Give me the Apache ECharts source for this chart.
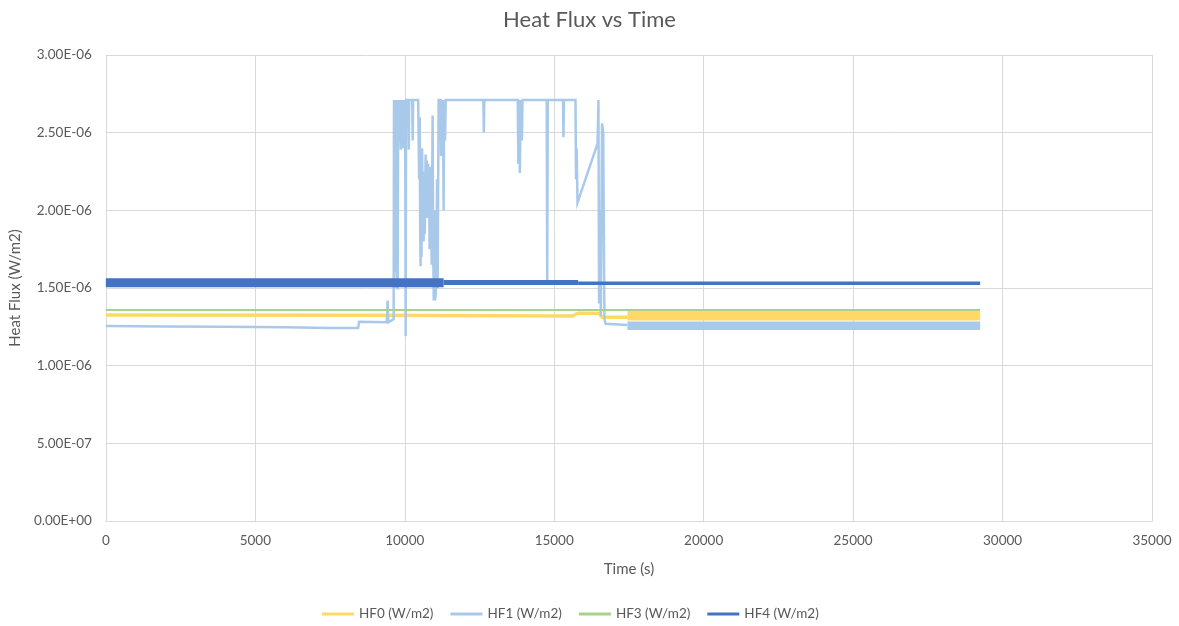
<!DOCTYPE html>
<html>
<head>
<meta charset="utf-8">
<script src="https://cdn.jsdelivr.net/npm/echarts@6/dist/echarts.min.js"></script>
<style>
html,body{margin:0;padding:0;background:#fff;}
#chart{width:1179px;height:626px;}
</style>
</head>
<body>
<div id="chart"></div>
<script>
// Series names
const seriesNames = ['HF0 (W/m2)', 'HF1 (W/m2)', 'HF3 (W/m2)', 'HF4 (W/m2)'];

// Axis ticks
const xTicks = [0, 5000, 10000, 15000, 20000, 25000, 30000, 35000];
const yTicks = [0, 5e-7, 1e-6, 1.5e-6, 2e-6, 2.5e-6, 3e-6];

// HF0 (thin part, then the wide noisy band)
const hf0Line = [[0,1.326e-6],[9000,1.325e-6],[15600,1.319e-6],[15800,1.338e-6],[16500,1.338e-6],[16600,1.311e-6],[17450,1.311e-6]];
const hf0Band = [[17450,1.324e-6],[29250,1.324e-6]];

// HF1 (thin trace with spikes, then the noisy band)
const hf1Line = [
  [0,1.255e-6],[2000,1.252e-6],[4000,1.250e-6],[6000,1.247e-6],[7500,1.243e-6],[8440,1.242e-6],
  [8470,1.283e-6],[9400,1.280e-6],[9427,1.42e-6],[9450,1.28e-6],[9550,1.29e-6],[9628,1.30e-6],
  [9640,2.71e-6],[9660,1.60e-6],[9680,2.71e-6],[9700,2.55e-6],[9715,2.71e-6],[9730,1.50e-6],
  [9745,2.71e-6],[9762,1.49e-6],[9780,2.71e-6],[9800,2.60e-6],[9820,2.71e-6],[9860,2.71e-6],
  [9870,2.39e-6],[9890,2.71e-6],[9910,2.45e-6],[9930,2.71e-6],[9950,2.40e-6],[9970,2.71e-6],
  [10000,2.71e-6],[10015,2.55e-6],[10029,1.19e-6],[10045,2.71e-6],[10120,2.71e-6],[10135,2.39e-6],
  [10150,2.71e-6],[10250,2.71e-6],[10265,2.45e-6],[10280,2.71e-6],[10450,2.71e-6],[10480,2.20e-6],
  [10500,2.60e-6],[10515,1.90e-6],[10530,1.64e-6],[10545,2.30e-6],[10560,1.70e-6],[10580,2.40e-6],
  [10600,1.90e-6],[10615,2.25e-6],[10631,1.80e-6],[10650,2.20e-6],[10670,1.85e-6],[10698,2.36e-6],
  [10715,2.00e-6],[10740,2.32e-6],[10760,1.95e-6],[10780,2.30e-6],[10798,2.10e-6],[10815,2.26e-6],
  [10830,1.75e-6],[10850,2.28e-6],[10865,2.00e-6],[10885,2.22e-6],[10900,1.65e-6],[10915,2.10e-6],
  [10932,2.61e-6],[10950,1.80e-6],[10970,1.42e-6],[10990,2.00e-6],[11005,1.42e-6],[11032,1.45e-6],
  [11060,1.60e-6],[11080,2.20e-6],[11100,1.50e-6],[11132,2.71e-6],[11200,2.71e-6],[11215,2.35e-6],
  [11230,2.71e-6],[11260,2.50e-6],[11280,2.71e-6],[11300,2.00e-6],[11320,2.71e-6],[11350,2.45e-6],
  [11370,2.71e-6],[12630,2.71e-6],[12645,2.50e-6],[12660,2.71e-6],[13780,2.71e-6],[13800,2.30e-6],
  [13820,2.71e-6],[13850,2.24e-6],[13880,2.71e-6],[13920,2.45e-6],[13940,2.71e-6],[14750,2.71e-6],
  [14766,1.55e-6],[14785,2.71e-6],[15295,2.71e-6],[15310,2.47e-6],[15325,2.71e-6],[15712,2.71e-6],
  [15730,2.20e-6],[15750,2.40e-6],[15780,2.05e-6],[16450,2.43e-6],[16480,2.71e-6],[16500,1.40e-6],
  [16530,2.00e-6],[16560,1.32e-6],[16600,2.56e-6],[16640,2.50e-6],[16680,1.30e-6],[16720,1.27e-6],
  [16780,1.262e-6],[17450,1.262e-6]
];
const hf1Band = [[17450,1.257e-6],[29250,1.257e-6]];

// HF3
const hf3Line = [[0,1.358e-6],[29250,1.358e-6]];

// HF4 (noisy band that narrows over time)
const hf4Early = [[0,1.533e-6],[11300,1.533e-6]];
const hf4Mid = [[11300,1.535e-6],[15800,1.535e-6]];
const hf4Late = [[15800,1.531e-6],[29250,1.531e-6]];

const colors = {hf0:'#FFD966', hf1:'#A9C9EA', hf3:'#A9D18E', hf4:'#4472C4'};

function fmtSci(v){
  if (Math.abs(v) < 1e-20) return '0.00E+00';
  let e = Math.floor(Math.log10(Math.abs(v)) + 1e-9);
  let m = v / Math.pow(10, e);
  if (Math.abs(m) >= 9.995) { m /= 10; e += 1; }
  return m.toFixed(2) + 'E' + (e < 0 ? '-' : '+') + String(Math.abs(e)).padStart(2, '0');
}

function lineSeries(name, data, color, width){
  return {
    name: name, type: 'line', data: data, showSymbol: false, symbol: 'none',
    lineStyle: {color: color, width: width, cap: 'butt', join: 'miter'},
    itemStyle: {color: color},
    emphasis: {disabled: true}, silent: true
  };
}

const chart = echarts.init(document.getElementById('chart'), null, {renderer: 'canvas'});
chart.setOption({
  animation: false,
  backgroundColor: '#ffffff',
  textStyle: {fontFamily: 'Lato'},
  title: {
    text: 'Heat Flux vs Time', left: 'center', top: 4,
    textStyle: {fontFamily: 'Lato', fontSize: 22, fontWeight: 'normal', color: '#595959'}
  },
  grid: {left: 105, right: 27, top: 55, bottom: 105, containLabel: false},
  legend: {
    data: seriesNames, left: 317, top: 602, icon: 'rect', itemWidth: 32, itemHeight: 3,
    itemGap: 17,
    textStyle: {fontFamily: 'Lato', fontSize: 13.5, color: '#595959', width: 72}
  },
  xAxis: {
    type: 'value', min: xTicks[0], max: xTicks[xTicks.length-1], interval: xTicks[1]-xTicks[0],
    name: 'Time (s)', nameLocation: 'middle', nameGap: 41,
    nameTextStyle: {fontFamily: 'Lato', fontSize: 15, color: '#595959'},
    axisLine: {show: true, lineStyle: {color: '#D9D9D9'}},
    axisTick: {show: false},
    axisLabel: {color: '#595959', fontSize: 13.5, fontFamily: 'Lato', margin: 13, formatter: function(v){ return String(v); }},
    splitLine: {show: true, lineStyle: {color: '#D9D9D9', width: 1}}
  },
  yAxis: {
    type: 'value', min: yTicks[0], max: yTicks[yTicks.length-1], interval: yTicks[1]-yTicks[0],
    name: 'Heat Flux (W/m2)', nameLocation: 'middle', nameGap: 78, nameRotate: 90,
    nameTextStyle: {fontFamily: 'Lato', fontSize: 15, color: '#595959'},
    axisLine: {show: false}, axisTick: {show: false},
    axisLabel: {color: '#595959', fontSize: 13.5, fontFamily: 'Lato', margin: 14, formatter: fmtSci},
    splitLine: {show: true, lineStyle: {color: '#D9D9D9', width: 1}}
  },
  series: [
    lineSeries(seriesNames[0], hf0Line, colors.hf0, 3.5),
    lineSeries(seriesNames[0], hf0Band, colors.hf0, 10.5),
    lineSeries(seriesNames[1], hf1Line, colors.hf1, 2.5),
    lineSeries(seriesNames[1], hf1Band, colors.hf1, 8.5),
    lineSeries(seriesNames[2], hf3Line, colors.hf3, 2),
    lineSeries(seriesNames[3], hf4Early, colors.hf4, 9),
    lineSeries(seriesNames[3], hf4Mid, colors.hf4, 5),
    lineSeries(seriesNames[3], hf4Late, colors.hf4, 3.5)
  ]
});
</script>
</body>
</html>
